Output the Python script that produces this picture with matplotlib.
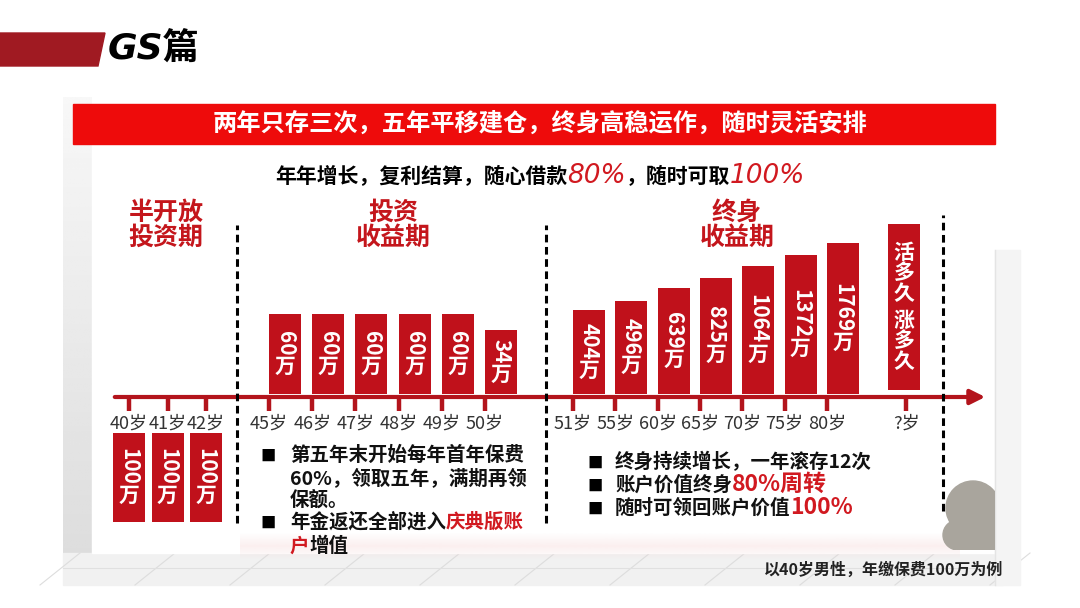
import numpy as np
import matplotlib
matplotlib.use('Agg')
import matplotlib.pyplot as plt
from matplotlib.patches import Rectangle, Polygon, Circle

plt.rcParams['font.family'] = ['Noto Sans CJK SC', 'DejaVu Sans']

# ---- data ----
ages_1 = ['40岁', '41岁', '42岁']
pay_1 = ['100', '100', '100']
ages_2 = ['45岁', '46岁', '47岁', '48岁', '49岁', '50岁']
pay_2 = ['60', '60', '60', '60', '60', '34']
ages_3 = ['51岁', '55岁', '60岁', '65岁', '70岁', '75岁', '80岁']
value_3 = ['404', '496', '639', '825', '1064', '1372', '1769']
age_last = '?岁'
label_last = ['活多久', '涨多久']
# bar heights as drawn on the slide (not to scale with the amounts)
h_1 = [89, 89, 89]
h_2 = [80, 80, 80, 80, 80, 64]
h_3 = [84, 93, 106, 116, 128, 139, 151]
h_last = [166]

group_titles = [('半开放', '投资期'), ('投资', '收益期'), ('终身', '收益期')]
banner = '两年只存三次，五年平移建仓，终身高稳运作，随时灵活安排'
footnote = '以40岁男性，年缴保费100万为例'

RED = '#C0111B'
AXRED = '#B3141C'
TXTRED = '#D11920'

fig = plt.figure(figsize=(10.8, 6.08), dpi=100)
# background axes in pixel units (y down)
bg = fig.add_axes([0, 0, 1, 1])
bg.set_xlim(0, 1080)
bg.set_ylim(608, 0)
bg.axis('off')

# card + surroundings
bg.add_patch(Rectangle((63, 97), 940, 488, color='white', zorder=0))
grad = np.linspace(0.97, 0.86, 100).reshape(-1, 1)
bg.imshow(np.tile(grad, (1, 10)), extent=(63, 92, 585, 97), cmap='gray', vmin=0, vmax=1,
          aspect='auto', zorder=1)
bg.add_patch(Rectangle((63, 553), 940, 32, color='#F1F1F1', zorder=1))
for xs in np.arange(40, 1000, 95):
    bg.plot([xs + 40, xs], [553, 585], color='#DDDDDD', lw=0.8, zorder=1)
bg.plot([63, 1003], [568, 568], color='#E0E0E0', lw=0.8, zorder=1)
bg.add_patch(Rectangle((92, 145), 903, 408, color='white', zorder=1))
wash = np.concatenate([np.linspace(0, 1, 15), np.linspace(1, 0, 15)]).reshape(-1, 1)
bg.imshow(np.dstack([np.ones((30, 1)) * 0.95, np.ones((30, 1)) * 0.80, np.ones((30, 1)) * 0.80,
                     wash * 0.3]), extent=(240, 960, 560, 532), aspect='auto', zorder=2)
bg.add_patch(Rectangle((995, 250), 25, 335, color='#F4F4F4', zorder=1))
bg.plot([995, 995], [250, 585], color='#E4E4E4', lw=1, zorder=2)
clip = Rectangle((900, 450), 95, 100, transform=bg.transData)
for p in [Circle((973, 508), 27), Circle((958, 535), 15), Rectangle((958, 512), 40, 40)]:
    p.set_color('#A9A59D')
    p.set_zorder(2)
    bg.add_patch(p)
    p.set_clip_path(clip)

# header tab
bg.add_patch(Polygon([(0, 33), (105, 33), (98, 66), (0, 66)], color='#A01A22', zorder=3))
bg.text(108, 50, 'GS篇', fontsize=26, weight='bold', style='italic', va='center',
        family=['DejaVu Sans', 'Noto Sans CJK SC'], color='black', zorder=4)

# red banner
bg.add_patch(Rectangle((73, 104), 922, 40, color='#EE0B0B', zorder=3))
bg.text(540, 124, banner, fontsize=17.5, weight='bold', color='white', ha='center',
        va='center', zorder=4)

fig.canvas.draw()
rend = fig.canvas.get_renderer()


def run_text(x, y, parts):
    for s, kw in parts:
        t = bg.text(x, y, s, ha='left', va='baseline', zorder=5, **kw)
        x += t.get_window_extent(renderer=rend).width


black_b = dict(fontsize=15, weight='bold', color='black')
red_it = dict(fontsize=19, style='italic', color=TXTRED, family='DejaVu Sans')
run_text(275, 183, [('年年增长，复利结算，随心借款', black_b), ('80%', red_it),
                    ('，随时可取', black_b), ('100%', red_it)])

# period titles
title_x = [166, 393, 737]
for cx, (l1, l2) in zip(title_x, group_titles):
    bg.text(cx, 213, l1, fontsize=18, weight='bold', color='#C4161C', ha='center', va='center')
    bg.text(cx, 238, l2, fontsize=18, weight='bold', color='#C4161C', ha='center', va='center')

# bullet notes
note = dict(fontsize=14, weight='bold', color='#111111')
note_r = dict(fontsize=14, weight='bold', color=TXTRED)
big_r = dict(fontsize=16.5, weight='bold', color=TXTRED)
for y in [461, 528]:
    bg.text(268, y, '■', fontsize=11, color='black', ha='center', va='baseline')
run_text(290, 461, [('第五年末开始每年首年保费', note)])
run_text(290, 484, [('60%，领取五年，满期再领', note)])
run_text(290, 506, [('保额。', note)])
run_text(290, 528, [('年金返还全部进入', note), ('庆典版账', note_r)])
run_text(290, 552, [('户', note_r), ('增值', note)])

for y in [468, 491, 514]:
    bg.text(595, y, '■', fontsize=11, color='black', ha='center', va='baseline')
run_text(615, 468, [('终身持续增长，一年滚存12次', note)])
run_text(615, 491, [('账户价值终身', note), ('80%周转', big_r)])
run_text(615, 514, [('随时可领回账户价值', note), ('100%', big_r)])

bg.text(1003, 570, footnote, fontsize=11.5, weight='bold', color='#222222', ha='right',
        va='center', zorder=5)

# ---- timeline chart: x in pixels, y = pixels above the axis line ----
ch = fig.add_axes([0, 0, 1, 1])
ch.patch.set_visible(False)
ch.set_xlim(0, 1080)
ch.set_ylim(-(608 - 397), 397)
ch.axis('off')

x1 = 129 + 38.5 * np.arange(len(ages_1))
x2 = 269 + 43.2 * np.arange(len(ages_2))
x3 = 573 + 42.3 * np.arange(len(ages_3))
x4 = np.array([906.0])
bw = 32

ch.bar(x1, -np.array(h_1), bottom=-36, width=bw, color=RED, zorder=3)
ch.bar(x2, h_2, bottom=3, width=bw, align='edge', color=RED, zorder=3)
ch.bar(x3, h_3, bottom=3, width=bw, align='edge', color=RED, zorder=3)
ch.bar(x4 - 2, h_last, bottom=7, width=bw, color=RED, zorder=3)

lab = dict(color='white', fontsize=15, weight='bold', ha='center', va='center', zorder=4,
           textcoords='offset pixels')


def bar_label(xc, yc, num):
    ch.annotate(num, (xc, yc), xytext=(0, 11), rotation=-90, **lab)
    ch.annotate('万', (xc, yc), xytext=(0, -len(num) * 6), **lab)


for x, h, s in zip(x1, h_1, pay_1):
    bar_label(x, -36 - h / 2, s)
for x, h, s in zip(x2, h_2, pay_2):
    bar_label(x + bw / 2, 3 + h / 2, s)
for x, h, s in zip(x3, h_3, value_3):
    bar_label(x + bw / 2, 3 + h / 2, s)
yc = 7 + h_last[0] / 2
for off, s in zip([34, -34], label_last):
    ch.annotate('\n'.join(s), (x4[0] - 2, yc), xytext=(0, off), linespacing=0.95, **lab)

# axis with arrow
ch.annotate('', xy=(988, 0), xytext=(112, 0),
            arrowprops=dict(arrowstyle='-|>', color=AXRED, lw=3, mutation_scale=22), zorder=5)
ticks = np.concatenate([x1, x2, x3, x4])
ch.vlines(ticks, -14, 0, color=AXRED, lw=3.2, zorder=5)
for x, s in zip(ticks, ages_1 + ages_2 + ages_3 + [age_last]):
    ch.text(x, -27, s, ha='center', va='center', fontsize=13, color='#333333', zorder=5)

# dashed separators
ch.vlines([237, 546], -126, 172, color='black', lw=2.2, linestyles=(0, (2.5, 1.5)), zorder=6)
ch.vlines([943], -114, 182, color='black', lw=2.2, linestyles=(0, (2.5, 1.5)), zorder=6)

fig.savefig('out.png', dpi=100)
